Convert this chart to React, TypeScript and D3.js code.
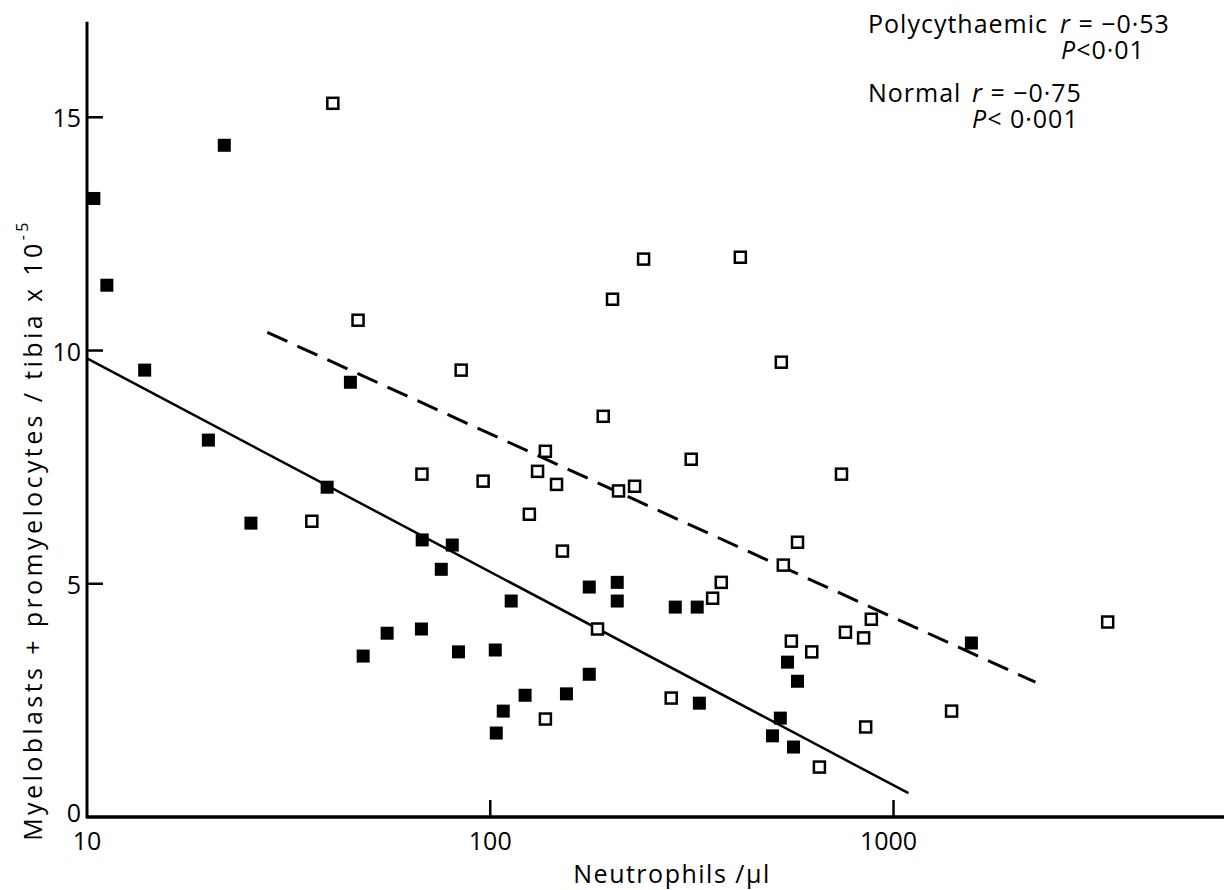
import React from "react";
import * as d3 from "d3";

// Filled squares (solid regression line)
const filledX = [10.4, 11.2, 13.9, 21.9, 20.0, 25.5, 45.0, 39.4, 67.8, 80.5, 75.6, 55.5, 48.4, 67.5, 83.4, 102.9, 112.7, 107.7, 103.5, 122, 154.5, 176, 176, 206.5, 206.5, 287.6, 326, 330, 524, 501, 565, 546, 578, 1560];
const filledY = [13.26, 11.4, 9.58, 14.4, 8.08, 6.3, 9.32, 7.07, 5.94, 5.83, 5.31, 3.94, 3.45, 4.03, 3.54, 3.58, 4.63, 2.27, 1.8, 2.61, 2.64, 3.06, 4.93, 5.03, 4.63, 4.5, 4.5, 2.44, 2.12, 1.74, 1.5, 3.32, 2.91, 3.73];

// Open squares (dashed regression line)
const openX = [40.7, 47, 84.7, 240, 417, 201, 527, 190.6, 137, 36.1, 67.7, 96, 131, 146, 125, 151, 208, 228, 315, 184.5, 356, 374, 533, 578, 558, 627, 281, 137, 655, 743, 760, 843, 881, 853, 1393, 3397];
const openY = [15.3, 10.65, 9.58, 11.96, 12.0, 11.1, 9.75, 8.59, 7.84, 6.34, 7.35, 7.2, 7.41, 7.13, 6.49, 5.7, 6.99, 7.09, 7.67, 4.03, 4.69, 5.03, 5.4, 5.89, 3.77, 3.54, 2.55, 2.1, 1.07, 7.35, 3.96, 3.84, 4.24, 1.93, 2.27, 4.18];

// Regression line end points
const solidLineX = [10, 1089];
const solidLineY = [9.83, 0.51];
const dashedLineX = [28, 2249];
const dashedLineY = [10.39, 2.89];

const xTicks = [10, 100, 1000];
const yTicks = [0, 5, 10, 15];

const W = 1224;
const H = 890;
const FONT = "'Open Sans', 'DejaVu Sans', sans-serif";

export default function App() {
  const x = d3.scaleLog().domain([10, 6600]).range([87, 1224]);
  const y = d3.scaleLinear().domain([0, 17]).range([817, 24]);

  const line = d3
    .line<[number, number]>()
    .x((d) => x(d[0]))
    .y((d) => y(d[1]));

  const solidPts: [number, number][] = solidLineX.map((v, i) => [v, solidLineY[i]]);
  const dashedPts: [number, number][] = dashedLineX.map((v, i) => [v, dashedLineY[i]]);

  const s = 13;

  return (
    <svg
      width={W}
      height={H}
      style={{ position: "absolute", left: 0, top: 0, background: "#fff" }}
      fontFamily={FONT}
    >
      <rect x={0} y={0} width={W} height={H} fill="#fff" />
      {/* axes */}
      <line x1={x(10)} y1={y(0)} x2={W} y2={y(0)} stroke="#000" strokeWidth={3.5} />
      <line x1={x(10)} y1={y(0) + 1.5} x2={x(10)} y2={y(17.05)} stroke="#000" strokeWidth={3} />
      {yTicks.filter((t) => t > 0).map((t) => (
        <line key={"yt" + t} x1={x(10)} x2={x(10) + 16} y1={y(t)} y2={y(t)} stroke="#000" strokeWidth={2.5} />
      ))}
      {xTicks.filter((t) => t > 10).map((t) => (
        <line key={"xt" + t} x1={x(t)} x2={x(t)} y1={y(0)} y2={y(0) - 17} stroke="#000" strokeWidth={2.5} />
      ))}
      {yTicks.map((t) => (
        <text
          key={"yl" + t}
          x={x(10) - 6}
          y={y(t) - (t === 0 ? 5 : 0)}
          textAnchor="end"
          dominantBaseline="central"
          fontSize={25}
        >
          {t}
        </text>
      ))}
      {xTicks.map((t) => (
        <text key={"xl" + t} x={x(t) - (t === 1000 ? 5 : 0)} y={850} textAnchor="middle" fontSize={25}>
          {t}
        </text>
      ))}
      <text x={672} y={883} textAnchor="middle" fontSize={25} letterSpacing={1.5}>
        Neutrophils /μl
      </text>
      <text
        transform={`translate(32, 530) rotate(-90)`}
        textAnchor="middle"
        dominantBaseline="central"
        fontSize={25}
        letterSpacing={3.4}
      >
        Myeloblasts + promyelocytes / tibia x 10
        <tspan dy={-10} fontSize={16}>-5</tspan>
      </text>

      {/* regression lines */}
      <path d={line(solidPts) || ""} fill="none" stroke="#000" strokeWidth={2.5} />
      <path d={line(dashedPts) || ""} fill="none" stroke="#000" strokeWidth={3} strokeDasharray="22 11" />

      {/* points */}
      {filledX.map((v, i) => (
        <rect key={"f" + i} x={x(v) - s / 2} y={y(filledY[i]) - s / 2} width={s} height={s} fill="#000" />
      ))}
      {openX.map((v, i) => (
        <rect
          key={"o" + i}
          x={x(v) - 5.5}
          y={y(openY[i]) - 5.5}
          width={11}
          height={11}
          fill="#fff"
          stroke="#000"
          strokeWidth={2.5}
        />
      ))}

      {/* annotations */}
      <text fontSize={25} letterSpacing={1}>
        <tspan x={868} y={33}>Polycythaemic</tspan>
        <tspan x={1060} y={33}>
          <tspan fontStyle="italic">r</tspan> = −0·53
        </tspan>
        <tspan x={1061} y={59}>
          <tspan fontStyle="italic">P</tspan>&lt;0·01
        </tspan>
      </text>
      <text fontSize={25} letterSpacing={1}>
        <tspan x={868} y={102}>Normal</tspan>
        <tspan x={972} y={102}>
          <tspan fontStyle="italic">r</tspan> = −0·75
        </tspan>
        <tspan x={972} y={128}>
          <tspan fontStyle="italic">P</tspan>&lt; 0·001
        </tspan>
      </text>
    </svg>
  );
}
